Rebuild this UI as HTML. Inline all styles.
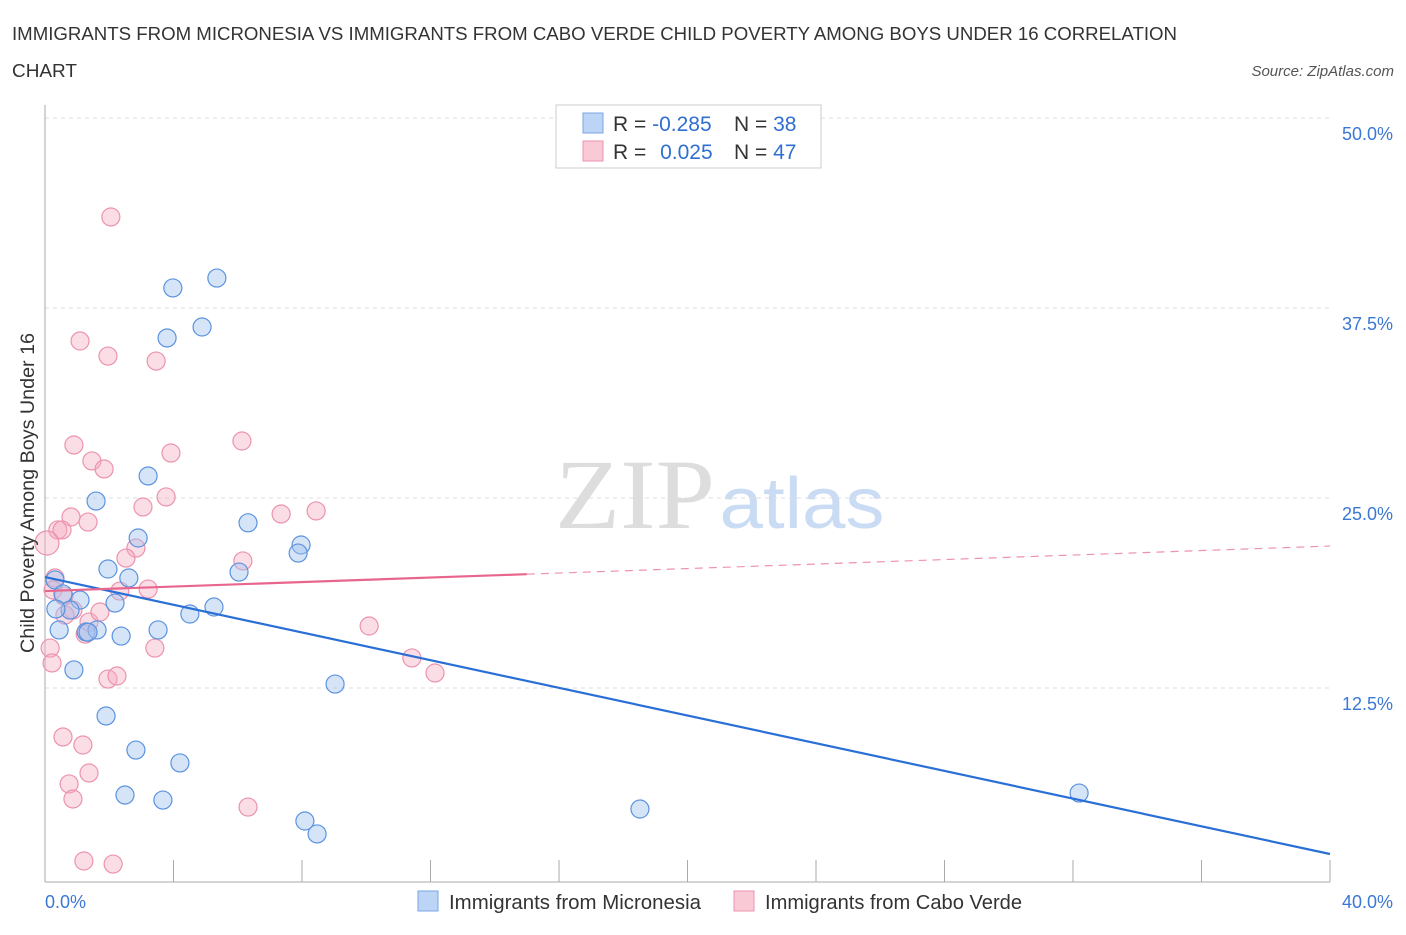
<!DOCTYPE html>
<html><head><meta charset="utf-8"><style>
body{margin:0;background:#fff;font-family:"Liberation Sans",sans-serif;}
</style></head><body>
<svg id="chart" width="1406" height="930" xmlns="http://www.w3.org/2000/svg" font-family="Liberation Sans, sans-serif">
<text x="12" y="40" font-size="18" fill="#333" textLength="1165" lengthAdjust="spacingAndGlyphs">IMMIGRANTS FROM MICRONESIA VS IMMIGRANTS FROM CABO VERDE CHILD POVERTY AMONG BOYS UNDER 16 CORRELATION</text>
<text x="12" y="77" font-size="18" fill="#333" textLength="65" lengthAdjust="spacingAndGlyphs">CHART</text>
<text x="1394" y="76" font-size="15" fill="#555" font-style="italic" text-anchor="end">Source: ZipAtlas.com</text>
<g>
<text x="635" y="528" font-size="100" fill="#ddd" style="font-family:'Liberation Serif',serif" text-anchor="middle" textLength="160" lengthAdjust="spacingAndGlyphs">ZIP</text>
<text x="802" y="528" font-size="72" fill="#c9dcf3" text-anchor="middle" textLength="165" lengthAdjust="spacingAndGlyphs">atlas</text>
</g>
<g id="grid"></g>
<g id="axes"></g>
<g id="marks"></g>
<g>
<rect x="556" y="105" width="265" height="63" fill="#fff" stroke="#ccc"/>
<rect x="583" y="113" width="20" height="20" fill="#bcd4f6" stroke="#7aa6e6"/>
<rect x="583" y="141" width="20" height="20" fill="#f9c9d6" stroke="#ec93ad"/>
<text x="613" y="131" font-size="21" fill="#333">R = <tspan fill="#2f6fd0">-0.285</tspan></text>
<text x="734" y="131" font-size="21" fill="#333">N = <tspan fill="#2f6fd0">38</tspan></text>
<text x="613" y="159" font-size="21" fill="#333">R = <tspan fill="#2f6fd0" dx="8">0.025</tspan></text>
<text x="734" y="159" font-size="21" fill="#333">N = <tspan fill="#2f6fd0">47</tspan></text>
</g>
<g>
<rect x="418" y="891" width="20" height="20" fill="#bcd4f6" stroke="#7aa6e6"/>
<text x="449" y="909" font-size="20" fill="#333" textLength="252" lengthAdjust="spacingAndGlyphs">Immigrants from Micronesia</text>
<rect x="734" y="891" width="20" height="20" fill="#f9c9d6" stroke="#ec93ad"/>
<text x="765" y="909" font-size="20" fill="#333" textLength="257" lengthAdjust="spacingAndGlyphs">Immigrants from Cabo Verde</text>
</g>
<text transform="translate(34,493) rotate(-90)" font-size="19" fill="#333" text-anchor="middle" textLength="320" lengthAdjust="spacingAndGlyphs">Child Poverty Among Boys Under 16</text>
</svg>
<script>
const blueX=[3.98,5.35,3.80,4.89,3.21,1.59,2.90,6.32,7.97,7.88,6.04,1.96,2.61,0.31,0.56,1.09,0.78,2.18,0.34,5.26,4.51,0.44,1.28,1.62,2.37,3.52,0.90,9.03,1.90,2.83,4.20,2.49,3.67,8.09,8.47,18.52,32.19,1.34];
const blueY=[38.95,39.6,35.66,36.38,26.58,24.93,22.5,23.5,22.04,21.51,20.26,20.46,19.87,19.74,18.82,18.42,17.76,18.22,17.83,17.96,17.5,16.45,16.32,16.45,16.05,16.45,13.82,12.89,10.79,8.55,7.70,5.59,5.26,3.88,3.03,4.67,5.72,16.3];
const pinkX=[2.05,1.09,1.96,3.46,0.90,1.46,1.84,3.92,6.13,3.77,3.05,1.34,0.81,0.40,0.53,0.06,2.83,2.52,6.16,7.35,8.44,0.31,0.25,0.59,0.87,3.21,2.33,0.62,1.25,1.37,0.16,0.22,3.42,1.96,2.24,10.09,11.42,12.14,0.56,1.18,1.37,0.75,0.87,6.32,1.21,2.12,1.71];
const pinkY=[43.62,35.46,34.47,34.14,28.62,27.57,27.04,28.09,28.88,25.2,24.54,23.55,23.88,23.03,23.03,22.17,21.84,21.18,20.99,24.08,24.28,19.87,19.08,18.68,17.76,19.14,19.01,17.43,16.18,16.97,15.26,14.28,15.26,13.22,13.42,16.71,14.61,13.62,9.41,8.88,7.04,6.32,5.33,4.80,1.25,1.05,17.63];
const yTicks=[12.5,25.0,37.5,50.0];
const yTickLabels=["12.5%","25.0%","37.5%","50.0%"];
const xTicks=[0,4,8,12,16,20,24,28,32,36,40];
const blueTrend=[19.93,1.71];
const pinkTrend=[19.01,21.97];
const pinkSolidEnd=15.0;

const NS="http://www.w3.org/2000/svg";
const X0=45,X1=1330,Y0=880,Y1=120;
const sx=v=>X0+(v/40)*(X1-X0);
const sy=v=>Y0-(v/50)*(Y0-Y1);
function mk(tag,attrs,parent){const e=document.createElementNS(NS,tag);for(const k in attrs)e.setAttribute(k,attrs[k]);parent.appendChild(e);return e;}
const grid=document.getElementById('grid'),axes=document.getElementById('axes'),marks=document.getElementById('marks');
yTicks.forEach((t,i)=>{
 const l=mk('line',{x1:X0,x2:1330,y1:sy(t)-2,y2:sy(t)-2,stroke:'#ddd','stroke-dasharray':'4,4'},grid);
 
 
 const tx=mk('text',{x:1393,y:sy(t)+20,'font-size':18,fill:'#3b78d4','text-anchor':'end'},axes);
 tx.textContent=yTickLabels[i];
 
 
});
const ya=mk('line',{x1:X0,x2:X0,y1:105,y2:882,stroke:'#aaa'},axes);


const xa=mk('line',{x1:X0,x2:X1,y1:882,y2:882,stroke:'#aaa'},axes);


xTicks.forEach(t=>{
 const l=mk('line',{x1:sx(t),x2:sx(t),y1:860,y2:882,stroke:'#aaa'},axes);
 
 
});
const xl0=mk('text',{x:45,y:908,'font-size':18,fill:'#3b78d4'},axes);xl0.textContent='0.0%';


const xl1=mk('text',{x:1393,y:908,'font-size':18,fill:'#3b78d4','text-anchor':'end'},axes);xl1.textContent='40.0%';



pinkX.forEach((x,i)=>{
 const c=mk('circle',{cx:sx(x),cy:sy(pinkY[i]),r:x<0.1?12:9,fill:'rgba(246,170,192,0.4)',stroke:'#ec93ad','stroke-width':1.2},marks);
 
 
});
blueX.forEach((x,i)=>{
 const c=mk('circle',{cx:sx(x),cy:sy(blueY[i]),r:9,fill:'rgba(164,196,240,0.45)',stroke:'#5b93df','stroke-width':1.2},marks);
 
 
});
const bt=mk('line',{x1:sx(0),y1:sy(blueTrend[0]),x2:sx(40),y2:sy(blueTrend[1]),stroke:'#2a6fd6','stroke-width':2.2},marks);


const pAt=x=>pinkTrend[0]+(pinkTrend[1]-pinkTrend[0])*x/40;
const pt=mk('line',{x1:sx(0),y1:sy(pAt(0)),x2:sx(pinkSolidEnd),y2:sy(pAt(pinkSolidEnd)),stroke:'#e8668e','stroke-width':2.2},marks);


const pd=mk('line',{x1:sx(pinkSolidEnd),y1:sy(pAt(pinkSolidEnd)),x2:sx(40),y2:sy(pAt(40)),stroke:'#ec93ad','stroke-width':1.2,'stroke-dasharray':'8,6'},marks);


</script>
</body></html>
